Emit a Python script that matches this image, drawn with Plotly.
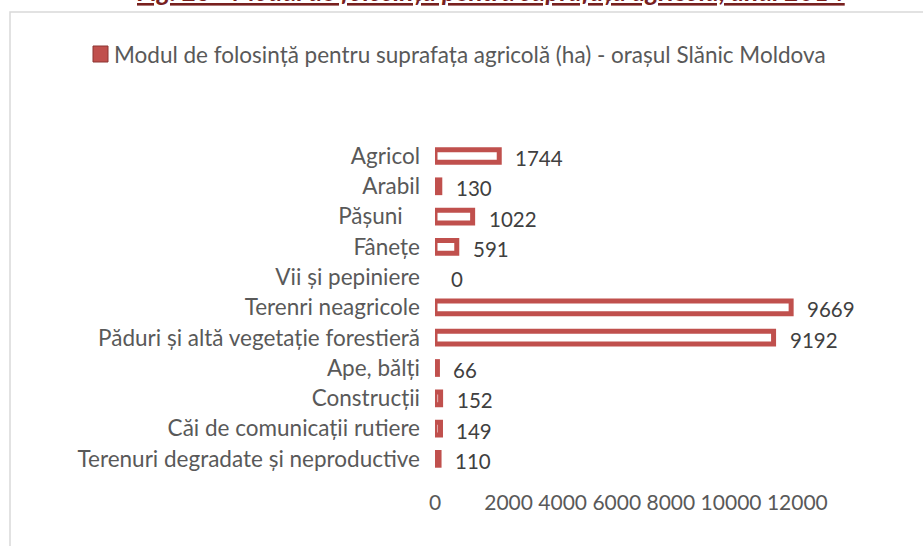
import plotly.graph_objects as go

# ---- data ----
categories = [
    "Agricol",
    "Arabil",
    "Pășuni\u00a0\u00a0\u00a0",
    "Fânețe",
    "Vii și pepiniere",
    "Terenri neagricole",
    "Păduri și altă vegetație forestieră",
    "Ape, bălți",
    "Construcții",
    "Căi de comunicații rutiere",
    "Terenuri degradate și neproductive",
]
values = [1744, 130, 1022, 591, 0, 9669, 9192, 66, 152, 149, 110]
series_name = "Modul de folosință pentru suprafața agricolă (ha) - orașul Slănic Moldova"
fig_title = "Fig. 25 - Modul de folosință pentru suprafața agricolă, anul 2014"
tick_values = [0, 2000, 4000, 6000, 8000, 10000, 12000]
tick_labels = ["0", "2000", "4000", "6000", "8000", "10000", "12000"]

# ---- layout constants ----
W, H = 923, 546
ML, MR, MT, MB = 435, 46, 140, 72
PW, PH = W - ML - MR, H - MT - MB
FONT = "Lato"
RED = "#C0504D"


def px_x(p):
    return (p - ML) / PW


def px_y(p):
    return (H - MB - p) / PH


fig = go.Figure()
fig.add_trace(go.Bar(
    orientation="h",
    x=values,
    y=categories,
    name=series_name,
    width=0.42,
    cliponaxis=False,
    marker=dict(color="white",
                line=dict(color=RED, width=[5 if v > 0 else 0 for v in values])),
    showlegend=False,
    hoverinfo="x+y",
))

# data labels
for c, v in zip(categories, values):
    fig.add_annotation(
        x=v, y=c, xref="x", yref="y", text=str(v), showarrow=False,
        xanchor="left", yanchor="middle", xshift=14, yshift=-2,
        font=dict(family=FONT, size=20.5, color="#404040"),
    )

# legend (manual)
fig.add_shape(type="rect", xref="paper", yref="paper",
              x0=px_x(93), x1=px_x(108), y0=px_y(62), y1=px_y(46),
              fillcolor=RED, line=dict(color="#8C3533", width=1))
fig.add_annotation(x=px_x(112), y=px_y(54), xref="paper", yref="paper",
                   text=series_name, showarrow=False, xanchor="left", yanchor="middle",
                   font=dict(family=FONT, size=22.5, color="#595959"))

# chart frame
fig.add_shape(type="rect", xref="paper", yref="paper", layer="below",
              x0=px_x(10), x1=px_x(940), y0=px_y(12), y1=px_y(570),
              fillcolor="rgba(0,0,0,0)", line=dict(color="#D9D9D9", width=1.5))

# cut-off caption above the chart
fig.add_annotation(x=px_x(491), y=px_y(8.5), xref="paper", yref="paper",
                   text=fig_title, showarrow=False, xanchor="center", yanchor="bottom",
                   borderpad=0,
                   font=dict(family=FONT, size=26, color="#78201E", weight="bold",
                             style="italic", lineposition="under"))

fig.update_layout(
    width=W, height=H,
    margin=dict(l=ML, r=MR, t=MT, b=MB, autoexpand=False),
    paper_bgcolor="white", plot_bgcolor="white",
    font=dict(family=FONT, size=20, color="#595959"),
    xaxis=dict(
        range=[0, 12000], showgrid=False, zeroline=False, showline=False, ticks="",
        tickvals=[tick_values[0], tick_values[3]],
        ticktext=[tick_labels[0], " ".join(tick_labels[1:])],
        ticklabelstandoff=14,
        tickfont=dict(family=FONT, size=21, color="#595959"),
        fixedrange=True,
    ),
    yaxis=dict(
        type="category", autorange="reversed", showgrid=False, zeroline=False,
        showline=False, ticks="", ticklabelstandoff=14,
        tickfont=dict(family=FONT, size=22.5, color="#595959"),
        fixedrange=True,
    ),
)

fig.write_html(
    "out.html",
    config={"displayModeBar": False},
    post_script="document.body.style.margin='0';document.body.style.overflow='hidden';",
)
